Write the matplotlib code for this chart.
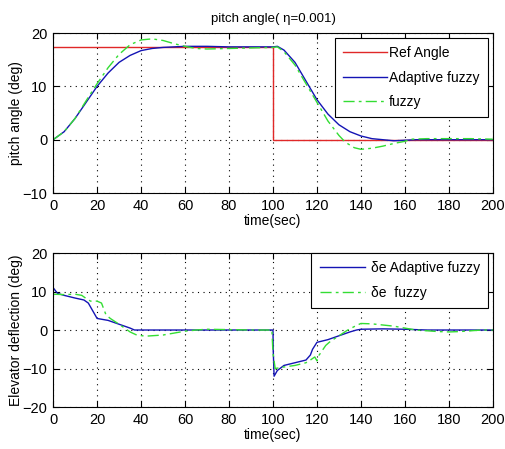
import numpy as np
import matplotlib
matplotlib.use('Agg')
import matplotlib.pyplot as plt
from matplotlib import rcParams
rcParams['font.family'] = ['Liberation Sans', 'DejaVu Sans']
rcParams['font.size'] = 10

# --- Data ---
# pitch angle, reference step
ref_t = [0, 100, 100, 200]
ref_y = [17.3, 17.3, 0, 0]

# pitch angle, adaptive fuzzy
ad_t = [0, 5, 10, 15, 20, 25, 30, 35, 40, 45, 50, 60, 70, 80, 90, 100, 102, 105,
        110, 115, 120, 125, 130, 135, 140, 145, 150, 155, 160, 165, 200]
ad_y = [0, 1.5, 4, 7, 10, 12.5, 14.5, 15.8, 16.7, 17.1, 17.3, 17.5, 17.5, 17.4,
        17.4, 17.4, 17.5, 16.8, 14.5, 11, 7.5, 4.8, 2.8, 1.5, 0.7, 0.2, 0, -0.2,
        -0.1, 0, 0]

# pitch angle, fuzzy
fz_t = [0, 5, 10, 15, 20, 25, 30, 35, 40, 45, 50, 55, 60, 65, 70, 80, 90, 100,
        102, 105, 110, 115, 120, 125, 130, 133, 137, 140, 145, 150, 155, 160,
        163, 170, 180, 190, 200]
fz_y = [0, 1.5, 4, 7.3, 10.5, 13.5, 16, 17.8, 18.7, 18.9, 18.6, 18, 17.5, 17.1,
        17, 17.1, 17.2, 17.3, 17.4, 16.5, 14, 10.5, 7, 3.5, 0.8, -0.5, -1.5,
        -1.8, -1.6, -1.2, -0.7, -0.3, 0.1, 0.2, 0.2, 0.2, 0.1]

# elevator deflection, adaptive fuzzy
de_ad_t = [0, 2, 5, 10, 14, 16, 18, 20, 25, 30, 35, 37, 40, 60, 80, 100, 100.1,
           100.5, 102, 105, 110, 115, 117, 118, 120, 125, 130, 135, 138, 140,
           150, 160, 170, 200]
de_ad_y = [11, 9.5, 9, 8.3, 7.8, 7, 5, 3, 2.5, 1.5, 0.5, 0, 0, 0, 0, 0, -5,
           -12, -10.5, -9.2, -8.5, -7.8, -6.5, -5, -3.2, -2.5, -1.5, -0.5, 0,
           0.2, 0.3, 0.2, 0, 0]

# elevator deflection, fuzzy
de_fz_t = [0, 5, 10, 13, 15, 17, 20, 22, 24, 26, 30, 35, 38, 42, 50, 55, 60, 65,
           70, 80, 90, 99.5, 100, 101, 105, 110, 115, 117, 119, 120, 121, 124,
           126, 130, 134, 138, 140, 145, 150, 155, 160, 165, 170, 175, 180, 185,
           190, 195, 200]
de_fz_y = [9.3, 9.2, 9.3, 9, 8.2, 7.5, 7.5, 7, 4, 3, 1.5, -0.5, -1.3, -1.6,
           -1.3, -0.8, -0.3, 0, 0.2, 0.1, 0, 0, -6, -10, -9.6, -9.2, -8.5, -7.8,
           -7, -8, -6.5, -4, -3, -1.5, 0, 1.2, 1.7, 1.6, 1.3, 1, 0.5, 0, -0.2,
           -0.4, -0.5, -0.4, -0.2, 0, 0]

red = '#e02828'
blue = '#1414b4'
green = '#33dd33'
dashdot = (0, (8, 3, 2, 3))

fig = plt.figure(figsize=(5.06, 4.49), dpi=100)
ax1 = fig.add_axes([0.105, 0.570, 0.869, 0.3565])
ax2 = fig.add_axes([0.105, 0.0935, 0.869, 0.343])


def style(ax, yticks):
    ax.set_xlim(0, 200)
    ax.set_xticks(range(0, 201, 20))
    ax.set_ylim(yticks[0], yticks[-1])
    ax.set_yticks(yticks)
    ax.grid(True, color='black', linestyle=(0, (1, 4)), linewidth=0.8)
    ax.tick_params(direction='in', top=True, right=True, length=4,
                   labelsize=10.5, pad=4)
    for s in ax.spines.values():
        s.set_linewidth(0.8)
    ax.set_xlabel('time(sec)', fontsize=10, labelpad=1)


# --- top: pitch angle ---
ax1.plot(ref_t, ref_y, color=red, lw=1, label='Ref Angle')
ax1.plot(ad_t, ad_y, color=blue, lw=1, label='Adaptive fuzzy')
ax1.plot(fz_t, fz_y, color=green, lw=1, linestyle=dashdot, label='fuzzy')
style(ax1, [-10, 0, 10, 20])
ax1.set_ylabel('pitch angle (deg)', fontsize=10, labelpad=0)
ax1.set_title('pitch angle( \u03b7=0.001)', fontsize=9.5, pad=8)
leg = ax1.legend(loc='upper right', fontsize=10, handlelength=3.2,
                 handletextpad=0.1, labelspacing=0.75, borderpad=0.6,
                 borderaxespad=0, fancybox=False, edgecolor='black',
                 framealpha=1, bbox_to_anchor=(0.988, 0.97))
leg.get_frame().set_linewidth(0.8)

# --- bottom: elevator deflection ---
ax2.plot(de_ad_t, de_ad_y, color=blue, lw=1, label='\u03b4e Adaptive fuzzy')
ax2.plot(de_fz_t, de_fz_y, color=green, lw=1, linestyle=dashdot,
         label='\u03b4e  fuzzy')
style(ax2, [-20, -10, 0, 10, 20])
ax2.set_ylabel('Elevator deflection (deg)', fontsize=10, labelpad=0)
leg2 = ax2.legend(loc='upper right', fontsize=10, handlelength=3.3,
                  handletextpad=0.4, labelspacing=0.75, borderpad=0.6,
                  borderaxespad=0, fancybox=False, edgecolor='black',
                  framealpha=1, bbox_to_anchor=(0.99, 1.0))
leg2.get_frame().set_linewidth(0.8)

fig.savefig('out.png', dpi=100)
